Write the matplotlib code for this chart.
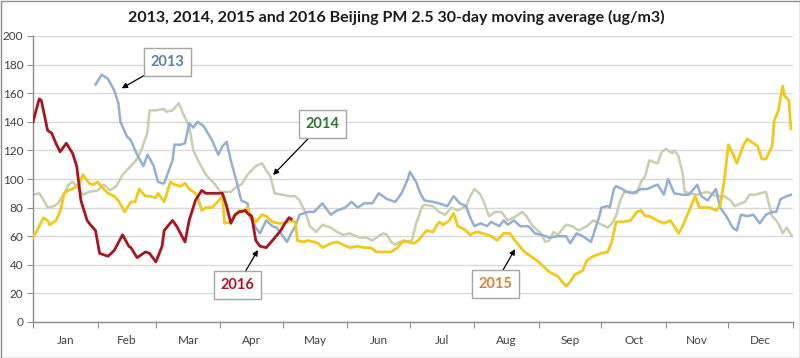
import matplotlib
matplotlib.use("Agg")
import matplotlib.pyplot as plt
from matplotlib.patches import Rectangle

plt.rcParams['font.family'] = ['Lato', 'DejaVu Sans']

# ---------------- data: (day of year, PM2.5 30-day moving average) ----------------
pm_2013 = [(30, 166), (33, 173), (36, 170), (39, 162), (41, 153), (42, 140), (45, 130), (47, 127), (50, 117),
           (53, 109), (55, 117), (58, 109), (60, 98), (62, 97), (63, 97), (67, 113), (68, 124), (71, 124),
           (73, 125), (75, 139), (77, 136), (79, 140), (82, 137), (86, 127), (89, 117), (91, 123), (93, 126),
           (95, 113), (98, 97), (100, 85), (103, 83), (104, 74), (107, 66), (109, 62), (112, 71), (115, 67),
           (117, 66), (120, 60), (122, 56), (124, 62), (126, 67), (128, 75), (132, 77), (135, 77), (139, 83),
           (143, 75), (146, 78), (150, 80), (153, 84), (156, 80), (159, 83), (163, 83), (166, 90), (170, 86),
           (174, 84), (177, 90), (180, 100), (181, 105), (184, 98), (186, 90), (188, 85), (192, 84), (195, 83),
           (199, 81), (202, 88), (205, 83), (208, 81), (210, 73), (212, 67), (215, 69), (218, 67), (220, 70),
           (224, 67), (226, 71), (228, 68), (231, 71), (234, 67), (238, 67), (241, 62), (244, 61), (248, 59),
           (252, 60), (256, 60), (258, 55), (261, 62), (264, 60), (268, 56), (272, 74), (273, 80), (276, 81),
           (277, 80), (279, 93), (280, 95), (283, 93), (285, 91), (288, 90), (292, 93), (295, 93), (298, 95),
           (300, 96), (303, 89), (305, 100), (308, 90), (312, 89), (315, 89), (319, 96), (321, 88), (324, 85),
           (328, 93), (330, 80), (333, 74), (336, 66), (338, 64), (340, 75), (343, 74), (346, 75), (349, 69),
           (352, 75), (355, 77), (357, 77), (359, 86), (362, 88), (364, 89)]

pm_2014 = [(0, 89), (3, 90), (6, 83), (7, 80), (10, 81), (12, 83), (15, 90), (17, 96), (19, 98), (21, 95),
           (24, 89), (27, 91), (31, 92), (34, 96), (37, 92), (40, 95), (43, 103), (47, 109), (50, 114),
           (52, 120), (55, 133), (56, 148), (59, 148), (63, 149), (64, 147), (67, 148), (70, 153), (72, 146),
           (75, 137), (77, 120), (80, 111), (83, 103), (87, 97), (90, 91), (95, 91), (98, 95), (100, 96),
           (103, 103), (105, 106), (107, 109), (110, 111), (112, 106), (114, 102), (116, 90), (120, 89),
           (123, 88), (126, 88), (128, 85), (131, 76), (133, 67), (136, 63), (139, 68), (143, 66), (146, 63),
           (149, 61), (152, 62), (157, 59), (160, 59), (163, 57), (168, 62), (170, 61), (172, 56), (174, 54),
           (176, 56), (179, 56), (182, 57), (184, 69), (187, 81), (188, 82), (192, 81), (195, 77), (198, 75),
           (201, 80), (204, 78), (208, 81), (210, 88), (212, 93), (215, 89), (217, 82), (219, 74), (222, 77),
           (225, 77), (228, 71), (232, 74), (235, 77), (237, 74), (240, 67), (244, 62), (246, 56), (248, 57),
           (250, 63), (252, 61), (256, 68), (259, 67), (262, 64), (266, 67), (269, 71), (272, 69), (276, 66),
           (278, 69), (280, 74), (282, 85), (284, 91), (287, 91), (290, 90), (292, 98), (294, 102), (296, 113),
           (300, 111), (302, 119), (304, 121), (307, 118), (308, 120), (310, 116), (312, 104), (313, 91),
           (316, 90), (319, 89), (321, 90), (324, 91), (328, 88), (332, 88), (335, 85), (337, 81), (340, 83),
           (342, 84), (344, 89), (347, 89), (349, 90), (352, 91), (353, 85), (355, 74), (357, 71), (359, 66),
           (360, 62), (362, 66), (364, 61), (365, 60)]

pm_2015 = [(0, 59), (2, 64), (5, 73), (7, 71), (8, 68), (11, 71), (13, 77), (15, 90), (17, 92), (19, 93),
           (22, 96), (24, 103), (27, 97), (29, 96), (31, 98), (34, 93), (36, 90), (39, 88), (41, 85), (44, 77),
           (47, 84), (49, 84), (51, 93), (54, 88), (56, 88), (59, 87), (60, 90), (63, 84), (66, 98), (68, 96),
           (71, 95), (73, 97), (75, 93), (78, 90), (79, 88), (81, 78), (83, 80), (86, 80), (88, 83), (91, 88),
           (92, 69), (95, 70), (97, 74), (99, 78), (101, 77), (103, 80), (104, 76), (107, 70), (110, 75),
           (112, 74), (115, 70), (118, 69), (121, 69), (123, 71), (126, 70), (127, 57), (130, 56), (132, 57),
           (135, 56), (137, 55), (139, 52), (143, 55), (146, 56), (149, 54), (152, 52), (156, 53), (159, 52),
           (162, 52), (165, 49), (168, 49), (172, 49), (175, 52), (178, 57), (180, 56), (183, 55), (185, 57),
           (189, 64), (192, 63), (195, 70), (197, 68), (200, 71), (202, 76), (204, 67), (207, 65), (210, 61),
           (213, 63), (216, 62), (220, 60), (223, 57), (226, 62), (229, 62), (232, 56), (236, 49), (239, 46),
           (242, 43), (245, 39), (248, 35), (252, 32), (256, 25), (258, 28), (260, 33), (264, 36), (266, 43),
           (269, 46), (273, 48), (276, 49), (278, 56), (280, 70), (283, 70), (287, 71), (290, 77), (292, 78),
           (294, 74), (296, 74), (300, 71), (303, 69), (306, 71), (308, 67), (310, 62), (312, 67), (316, 81),
           (318, 88), (320, 80), (322, 80), (325, 80), (328, 78), (330, 81), (332, 99), (334, 124), (336, 118),
           (338, 111), (341, 123), (343, 128), (345, 126), (348, 123), (350, 114), (352, 114), (355, 123),
           (356, 141), (358, 148), (360, 165), (361, 158), (363, 155), (364, 135)]

pm_2016 = [(0, 140), (3, 156), (4, 155), (7, 134), (9, 132), (11, 125), (13, 119), (16, 125), (19, 118),
           (21, 109), (23, 85), (26, 71), (27, 69), (30, 64), (32, 48), (36, 46), (39, 50), (43, 61), (46, 53),
           (47, 52), (50, 45), (54, 49), (56, 48), (59, 42), (62, 53), (63, 64), (67, 71), (69, 67), (73, 56),
           (75, 71), (78, 85), (81, 92), (83, 90), (87, 90), (91, 90), (93, 81), (95, 69), (97, 75), (99, 77),
           (102, 78), (103, 76), (105, 74), (107, 57), (109, 53), (112, 52), (115, 57), (119, 64), (121, 69),
           (123, 73), (124, 72)]

month_labels = ["Jan", "Feb", "Mar", "Apr", "May", "Jun", "Jul", "Aug", "Sep", "Oct", "Nov", "Dec"]
month_starts = [0, 31, 59, 90, 120, 151, 181, 212, 243, 273, 304, 334, 365]
y_ticks = [0, 20, 40, 60, 80, 100, 120, 140, 160, 180, 200]

title = "2013, 2014, 2015 and 2016 Beijing PM 2.5 30-day moving average (ug/m3)"

# ---------------- figure ----------------
fig = plt.figure(figsize=(8.0, 3.58), dpi=100)
fig.patch.set_facecolor("white")
ax = fig.add_axes([33 / 800, 1 - 322 / 358, 760 / 800, 286 / 358])

c2013 = "#93afd4"
c2014 = "#c6cfae"
c2015 = "#f2c81a"
c2016 = "#aa1420"


def draw(series, color, lw, z):
    xs = [p[0] for p in series]
    ys = [p[1] for p in series]
    ax.plot(xs, ys, color=color, lw=lw, zorder=z, solid_joinstyle="round")


draw(pm_2014, c2014, 1.8, 2)
draw(pm_2013, c2013, 1.8, 3)
draw(pm_2015, c2015, 2.0, 4)
draw(pm_2016, c2016, 2.0, 5)

ax.set_xlim(0, 365)
ax.set_ylim(0, 200)
ax.set_yticks(y_ticks)
ax.set_yticklabels([str(v) for v in y_ticks])
ax.yaxis.grid(True, color="#d9d9d9", lw=1.0)
ax.set_axisbelow(True)

ax.set_xticks(month_starts)
ax.set_xticklabels([])
mids = [(month_starts[i] + month_starts[i + 1]) / 2 for i in range(12)]
ax.set_xticks(mids, minor=True)
ax.set_xticklabels(month_labels, minor=True)
ax.tick_params(axis="x", which="minor", length=0, labelsize=8.5, pad=9, colors="#404040")
ax.tick_params(axis="x", which="major", length=4, color="#8c8c8c")
ax.tick_params(axis="y", length=4, color="#8c8c8c", labelsize=8.5, labelcolor="#404040", pad=3)

for s in ["top", "right"]:
    ax.spines[s].set_visible(False)
for s in ["left", "bottom"]:
    ax.spines[s].set_color("#8c8c8c")
    ax.spines[s].set_linewidth(1.0)

fig.text(0.496, 0.952, title, ha="center", va="center", fontsize=11.5, fontweight="bold", color="#1a1a1a")


def label(text, xy_box, xy_tip, color):
    ax.annotate(text, xy=xy_tip, xytext=xy_box, ha="center", va="center",
                fontsize=10.5, fontweight="bold", color=color,
                bbox=dict(boxstyle="square,pad=0.45", fc="white", ec="#a6a6a6", lw=1.0),
                arrowprops=dict(arrowstyle="-|>", color="black", lw=0.9, mutation_scale=8,
                                shrinkA=0, shrinkB=0),
                zorder=10)


label("2013", (64.6, 181.8), (42.6, 163.4), "#5a80ab")
label("2014", (139, 138.5), (115.3, 102.8), "#2a7a2a")
label("2016", (98.2, 25.9), (108, 50.3), "#b0162a")
label("2015", (221.9, 26.6), (231.5, 51), "#d4863a")

fig.add_artist(Rectangle((0.5 / 800, 0.5 / 358), 799 / 800, 357 / 358, transform=fig.transFigure,
                         fill=False, ec="#8c8c8c", lw=1.0))

fig.savefig("out.png", dpi=100, facecolor="white")
